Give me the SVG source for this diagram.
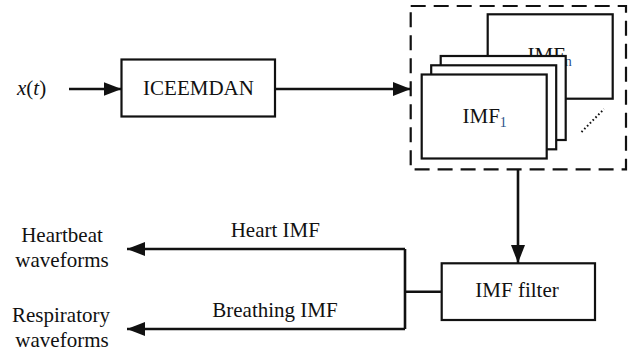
<svg xmlns="http://www.w3.org/2000/svg" width="633" height="355" viewBox="0 0 633 355">
<style>
text{font-family:"Liberation Serif","Times New Roman",serif;font-size:21px;fill:#111}
.box{fill:#fff;stroke:#111;stroke-width:2.2}
.conn{fill:none;stroke:#111;stroke-width:2.6}
.sub{font-size:14px;fill:#2a4f8a}
</style>
<defs>
<marker id="arr" markerUnits="userSpaceOnUse" markerWidth="18" markerHeight="16" refX="18" refY="8" orient="auto">
<path d="M0,1 L18,8 L0,15 Z" fill="#111"/>
</marker>
</defs>
<rect width="633" height="355" fill="#fff"/>

<g id="input">
<text x="17" y="95"><tspan font-style="italic">x</tspan>(<tspan font-style="italic">t</tspan>)</text>
</g>

<g id="iceemdan">
<rect class="box" x="121.5" y="59.5" width="153.5" height="57"/>
<text x="198.5" y="94.5" text-anchor="middle">ICEEMDAN</text>
</g>

<g id="imf-group">
<rect x="410.7" y="6" width="215.3" height="163.3" fill="none" stroke="#111" stroke-width="2.2" stroke-dasharray="15 8"/>
<g id="imf-n">
<rect class="box" x="487.7" y="14.3" width="125" height="84.4"/>
<text x="527.5" y="62">IMF<tspan class="sub" dy="4">n</tspan></text>
</g>
<rect class="box" x="440.7" y="56" width="125" height="84"/>
<rect class="box" x="431.2" y="65.3" width="125" height="84"/>
<g id="imf-1">
<rect class="box" x="421.7" y="74.5" width="125" height="84"/>
<text x="462.5" y="122.5" font-size="20">IMF<tspan class="sub" dy="4">1</tspan></text>
</g>
<line x1="581.5" y1="132" x2="604" y2="109" stroke="#111" stroke-width="2" stroke-dasharray="1.6 2.4"/>
</g>

<g id="imf-filter">
<rect class="box" x="441.7" y="263.3" width="153.3" height="56.7"/>
<text x="517" y="296.7" text-anchor="middle">IMF filter</text>
</g>

<g id="heartbeat">
<text x="62" y="241.7" text-anchor="middle">Heartbeat</text>
<text x="62" y="266.5" text-anchor="middle">waveforms</text>
</g>

<g id="respiratory">
<text x="61" y="322" text-anchor="middle">Respiratory</text>
<text x="62" y="346.5" text-anchor="middle">waveforms</text>
</g>

<g id="connectors">
<line class="conn" x1="69" y1="89" x2="121.5" y2="89" marker-end="url(#arr)"/>
<line class="conn" x1="275" y1="89" x2="410.7" y2="89" marker-end="url(#arr)"/>
<line class="conn" x1="518" y1="169.3" x2="518" y2="263" marker-end="url(#arr)"/>
<line class="conn" x1="441.7" y1="291.7" x2="405" y2="291.7"/>
<polyline class="conn" points="405,249 405,329"/>
<line class="conn" x1="405" y1="249" x2="127" y2="249" marker-end="url(#arr)"/>
<line class="conn" x1="405" y1="329" x2="127" y2="329" marker-end="url(#arr)"/>
<text x="275.3" y="236.7" text-anchor="middle">Heart IMF</text>
<text x="275" y="316.7" text-anchor="middle">Breathing IMF</text>
</g>
</svg>
